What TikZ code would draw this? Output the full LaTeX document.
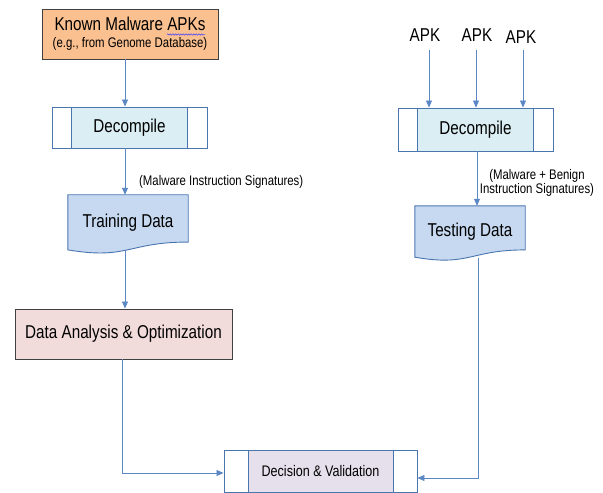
\documentclass[tikz,border=0pt]{standalone}
\usepackage{fontspec}
\setmainfont{Liberation Sans}[FakeStretch=0.82]
\usetikzlibrary{arrows.meta,decorations.pathmorphing,calc}
\definecolor{bdr}{HTML}{4A76B0}
\definecolor{gbdr}{HTML}{404040}
\definecolor{arrc}{HTML}{5B87C5}
\definecolor{orangef}{HTML}{FAC090}
\definecolor{pinkf}{HTML}{F2DCDB}
\definecolor{decin}{HTML}{DAEEF3}
\definecolor{dvin}{HTML}{E5E0EC}
\definecolor{docf}{HTML}{C6D9F1}
\newcommand\bigtxt{\fontsize{18.6}{20}\selectfont}
\newcommand\smalltxt{\fontsize{13.9}{15}\selectfont}
\newcommand\dvtxt{\fontsize{15.3}{16}\selectfont}
\begin{document}
\begin{tikzpicture}[x=1pt,y=-1pt,
  arr/.style={draw=arrc, line width=0.8pt, -{Triangle[length=7pt,width=6pt]}},
  plainbox/.style={draw=gbdr, line width=0.9pt, inner sep=0pt, font=\bigtxt},
  decbox/.style={draw=bdr, line width=0.9pt, fill=white, inner sep=0pt, font=\bigtxt,
    path picture={
      \fill[#1] ([xshift=19.5pt]path picture bounding box.north west) rectangle ([xshift=-19.5pt]path picture bounding box.south east);
      \draw[bdr, line width=0.9pt] ([xshift=19.5pt]path picture bounding box.north west) -- ([xshift=19.5pt]path picture bounding box.south west)
        ([xshift=-19.5pt]path picture bounding box.north east) -- ([xshift=-19.5pt]path picture bounding box.south east);}},
  dvbox/.style={draw=bdr, line width=0.9pt, fill=white, inner sep=0pt, font=\dvtxt,
    path picture={
      \fill[dvin] ([xshift=24pt]path picture bounding box.north west) rectangle ([xshift=-24pt]path picture bounding box.south east);
      \draw[bdr, line width=0.9pt] ([xshift=24pt]path picture bounding box.north west) -- ([xshift=24pt]path picture bounding box.south west)
        ([xshift=-24pt]path picture bounding box.north east) -- ([xshift=-24pt]path picture bounding box.south east);}},
  docnode/.style={inner sep=0pt, font=\bigtxt},
  docdraw/.style={draw=bdr, fill=docf, line width=0.9pt},
  lbl/.style={inner sep=0pt, font=\smalltxt},
  apk/.style={inner sep=3pt, font=\bigtxt}
]
\useasboundingbox (0,0) rectangle (603,493);

% left column
\node[plainbox, fill=orangef, minimum width=176pt, minimum height=50pt, align=center] (known) at (130,34)
  {{\bigtxt Known Malware APKs}\\[-3pt]{\smalltxt (e.g., from Genome Database)}};
\draw[blue!75, line width=0.5pt, decorate, decoration={snake, amplitude=0.7pt, segment length=2.6pt}] (167,34.5) -- (205,34.5);

\node[decbox=decin, minimum width=155pt, minimum height=41pt] (dec1) at (129.5,127.5) {Decompile};

\node[docnode, minimum width=120pt, minimum height=55.1pt] (td) at (128,222.5) {};
\draw[docdraw] (td.north west) -- (td.north east) -- ($(td.north east)+(0,47.3)$)
  .. controls ($(td.north west)+(60,47.3)$) and ($(td.north west)+(60,65.3)$) .. ($(td.north west)+(0,55.1)$) -- cycle;
\node[docnode] at (td.center) {Training Data};

\node[plainbox, fill=pinkf, minimum width=217pt, minimum height=50pt] (da) at (123.5,334) {Data Analysis \& Optimization};

\node[dvbox, minimum width=193pt, minimum height=42pt] (dv) at (320.5,471) {Decision \& Validation};

\coordinate (L) at (125,0);
\draw[arr] (known.south -| L) -- (dec1.north -| L);
\draw[arr] (dec1.south -| L) -- (td.north -| L);
\draw[arr] (td.south -| L) -- (da.north -| L);
\node[lbl, anchor=west] (lab1) at (139,182) {(Malware Instruction Signatures)};
\draw[arr] ([xshift=-1.5pt]da.south) |- ([yshift=-2pt]dv.west);

% right column
\node[apk] (apk1) at (425,35) {APK};
\node[apk] (apk2) at (477,35) {APK};
\node[apk] (apk3) at (521,37) {APK};

\node[decbox=decin, minimum width=155pt, minimum height=43pt] (dec2) at (475.5,129.5) {Decompile};

\draw[arr, shorten <=5pt] ([xshift=4pt]apk1.south) -- ([xshift=4pt]apk1.south |- dec2.north);
\draw[arr, shorten <=5pt] ([xshift=-1pt]apk2.south) -- ([xshift=-1pt]apk2.south |- dec2.north);
\draw[arr, shorten <=3pt] ([xshift=2pt]apk3.south) -- ([xshift=2pt]apk3.south |- dec2.north);

\node[docnode, minimum width=110pt, minimum height=51.4pt] (tsd) at (470,231.7) {};
\draw[docdraw] (tsd.north west) -- (tsd.north east) -- ($(tsd.north east)+(0,44.1)$)
  .. controls ($(tsd.north west)+(55,44.1)$) and ($(tsd.north west)+(55,60.9)$) .. ($(tsd.north west)+(0,51.4)$) -- cycle;
\node[docnode] at (tsd.center) {Testing Data};

\coordinate (R) at (477,0);
\draw[arr] (dec2.south -| R) -- (tsd.north -| R);
\node[lbl, align=center] (lab2) at (537,183) {(Malware + Benign\\[-1pt]Instruction Signatures)};

\draw[arr] ([xshift=8pt]tsd.south) |- ([yshift=-7pt]dv.east);
\end{tikzpicture}
\end{document}
